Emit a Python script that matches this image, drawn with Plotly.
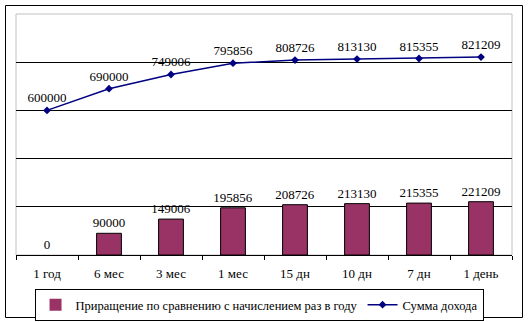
import plotly.graph_objects as go

# Periodicity of interest accrual
periods = ["1 год", "6 мес", "3 мес", "1 мес", "15 дн", "10 дн", "7 дн", "1 день"]
# Increase compared with once-a-year accrual
increase = [0, 90000, 149006, 195856, 208726, 213130, 215355, 221209]
# Total income
income = [600000, 690000, 749006, 795856, 808726, 813130, 815355, 821209]

W, H = 528, 322
ml, mr, mt, mb = 16, 16, 14, 67
pw, ph = W - ml - mr, H - mt - mb

def px_x(x):
    return (x - ml) / pw

def px_y(y):
    return (H - mb - y) / ph

font_main = dict(family="Liberation Serif", size=13, color="black")

fig = go.Figure()
fig.add_trace(go.Bar(
    x=periods, y=increase,
    name="Приращение по сравнению с начислением раз в году",
    marker=dict(color="#993366",
                line=dict(color="black", width=[1 if v else 0 for v in increase])),
    text=[str(v) for v in increase], textposition="outside",
    constraintext="none",
    textfont=dict(family="Liberation Serif", size=13, color="black"),
    cliponaxis=False,
))
fig.add_trace(go.Scatter(
    x=periods, y=income, name="Сумма дохода",
    mode="lines+markers+text",
    line=dict(color="#000080", width=1.5),
    marker=dict(symbol="diamond", size=6, color="#000080"),
    text=[str(v) for v in income], textposition="top center",
    textfont=dict(family="Liberation Serif", size=13, color="black"),
    cliponaxis=False,
))

fig.update_layout(
    width=W, height=H,
    margin=dict(l=ml, r=mr, t=mt, b=mb, autoexpand=False),
    paper_bgcolor="white", plot_bgcolor="white",
    font=font_main,
    bargap=0.6,
    showlegend=True,
    legend=dict(
        orientation="h", x=0.49, xanchor="center", y=px_y(289), yanchor="top",
        bordercolor="black", borderwidth=1, bgcolor="white",
        font=dict(family="Liberation Serif", size=12.5, color="black"),
        traceorder="normal", itemwidth=30, tracegroupgap=0,
    ),
    xaxis=dict(
        showline=True, linecolor="black", linewidth=1,
        ticks="outside", ticklen=4, tickcolor="black", tickson="boundaries",
        ticklabelstandoff=6,
        showgrid=False, fixedrange=True,
        tickfont=dict(family="Liberation Serif", size=13, color="black"),
    ),
    yaxis=dict(
        range=[0, 1000000], tickmode="array",
        tickvals=[200000, 400000, 600000, 800000],
        showticklabels=False, showgrid=True, gridcolor="black", gridwidth=1,
        zeroline=False, showline=False,
    ),
    shapes=[
        # plot area frame
        dict(type="rect", xref="paper", yref="paper", x0=0, x1=1, y0=0, y1=1,
             line=dict(color="#c0c0c0", width=1), layer="below"),
        # outer chart frame
        dict(type="rect", xref="paper", yref="paper",
             x0=px_x(5.5), x1=px_x(522.5), y0=px_y(317.5), y1=px_y(5.5),
             line=dict(color="black", width=1)),
    ],
)

fig.write_html("out.html")
